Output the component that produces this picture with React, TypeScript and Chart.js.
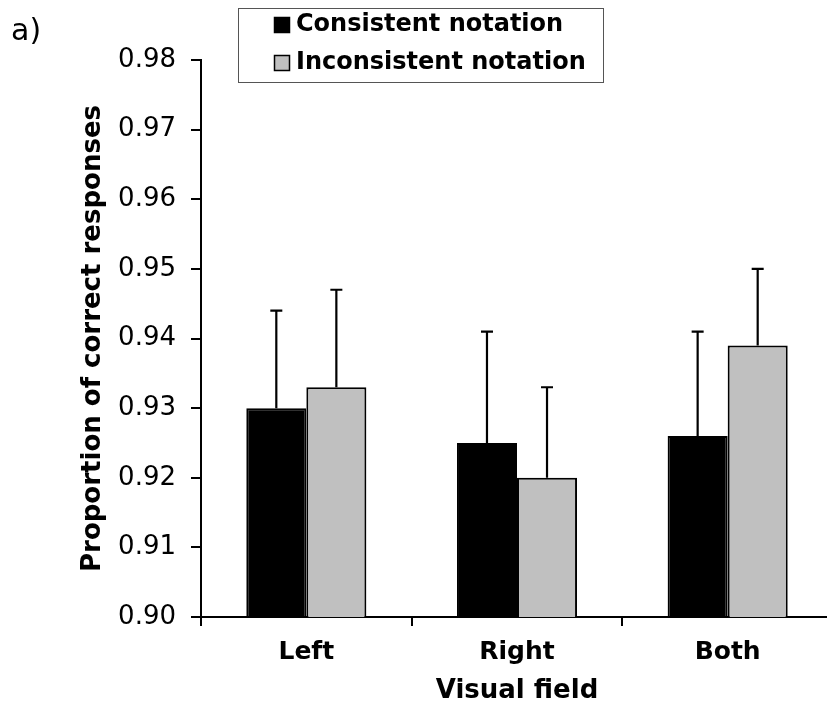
import React, { useEffect, useRef } from "react";
import { Chart, registerables } from "chart.js";

Chart.register(...registerables);

const categories = ["Left", "Right", "Both"];
const seriesNames = ["Consistent notation", "Inconsistent notation"];
const consistentValues = [0.930, 0.925, 0.926];
const inconsistentValues = [0.933, 0.920, 0.939];
const consistentUpper = [0.944, 0.941, 0.941];
const inconsistentUpper = [0.947, 0.933, 0.950];
const seriesColors = ["#000000", "#C0C0C0"];
const yMin = 0.90;
const yMax = 0.98;
const yStep = 0.01;
const xTitle = "Visual field";
const yTitle = "Proportion of correct responses";
const panelLabel = "a)";

const FONT = "'DejaVu Sans', Verdana, sans-serif";

const errorBarPlugin = {
  id: "errorBars",
  afterDatasetsDraw(chart: any) {
    const ctx = chart.ctx;
    const yScale = chart.scales.y;
    ctx.save();
    ctx.strokeStyle = "#000";
    ctx.lineWidth = 2.2;
    chart.data.datasets.forEach((ds: any, i: number) => {
      const meta = chart.getDatasetMeta(i);
      meta.data.forEach((bar: any, j: number) => {
        const up = ds.upper[j];
        const yTop = bar.y;
        const yErr = yScale.getPixelForValue(up);
        ctx.beginPath();
        ctx.moveTo(bar.x, yTop);
        ctx.lineTo(bar.x, yErr);
        ctx.moveTo(bar.x - 6, yErr);
        ctx.lineTo(bar.x + 6, yErr);
        ctx.stroke();
      });
    });
    ctx.restore();
  },
};

const legendBoxPlugin = {
  id: "legendBox",
  afterDraw(chart: any) {
    const ctx = chart.ctx;
    ctx.save();
    ctx.strokeStyle = "#555";
    ctx.lineWidth = 1;
    ctx.strokeRect(238.5, 8.5, 365, 74);
    const rows = [25, 63];
    chart.data.datasets.forEach((ds: any, i: number) => {
      const y = rows[i];
      ctx.fillStyle = ds.backgroundColor;
      ctx.fillRect(274, y - 8, 16, 16);
      ctx.strokeStyle = "#000";
      ctx.lineWidth = 1.5;
      ctx.strokeRect(274.5, y - 7.5, 15, 15);
      ctx.fillStyle = "#000";
      ctx.font = `bold 24px ${FONT}`;
      ctx.textBaseline = "middle";
      ctx.textAlign = "left";
      ctx.fillText(ds.label, 296, y);
    });
    ctx.font = `30px ${FONT}`;
    ctx.textBaseline = "alphabetic";
    ctx.fillText(panelLabel, 11, 40);
    ctx.restore();
  },
};

export default function App() {
  const ref = useRef<HTMLCanvasElement>(null);
  useEffect(() => {
    if (!ref.current) return;
    const chart = new Chart(ref.current, {
      type: "bar",
      data: {
        labels: categories,
        datasets: [
          {
            label: seriesNames[0],
            data: consistentValues,
            upper: consistentUpper,
            backgroundColor: seriesColors[0],
            borderColor: "#000",
            borderWidth: 2,
          } as any,
          {
            label: seriesNames[1],
            data: inconsistentValues,
            upper: inconsistentUpper,
            backgroundColor: seriesColors[1],
            borderColor: "#000",
            borderWidth: 2,
          } as any,
        ],
      },
      options: {
        responsive: false,
        animation: false,
        layout: { padding: { top: 60, right: 7, left: 0, bottom: 0 } },
        datasets: { bar: { barPercentage: 1, categoryPercentage: 0.57 } },
        plugins: { legend: { display: false }, tooltip: { enabled: false } },
        scales: {
          x: {
            grid: { display: true, offset: true, drawOnChartArea: false, drawTicks: true, tickLength: 9, color: "#000", lineWidth: 2 },
            border: { display: true, color: "#000", width: 2 },
            ticks: { color: "#000", padding: 11, font: { family: FONT, size: 25, weight: "bold" } },
            title: { display: true, text: xTitle, color: "#000", font: { family: FONT, size: 26, weight: "bold" }, padding: { top: 0, bottom: 4 } },
            afterFit(scale: any) { scale.height = 94; },
          },
          y: {
            min: yMin,
            max: yMax,
            grid: { display: true, drawOnChartArea: false, drawTicks: true, tickLength: 10, color: "#000", lineWidth: 2 },
            border: { display: true, color: "#000", width: 2 },
            ticks: {
              stepSize: yStep,
              color: "#000",
              padding: 15,
              font: { family: FONT, size: 26 },
              callback: (v: any) => Number(v).toFixed(2),
            },
            title: { display: true, text: yTitle, color: "#000", font: { family: FONT, size: 26, weight: "bold" }, padding: { top: 78, bottom: 0 } },
            afterFit(scale: any) { scale.width = 201; },
          },
        },
      } as any,
      plugins: [errorBarPlugin, legendBoxPlugin],
    });
    return () => chart.destroy();
  }, []);
  return (
    <div style={{ position: "fixed", left: 0, top: 0, width: 827, height: 711, overflow: "hidden", background: "#fff" }}>
      <canvas ref={ref} width={840} height={711} style={{ display: "block", width: 840, height: 711 }} />
    </div>
  );
}
